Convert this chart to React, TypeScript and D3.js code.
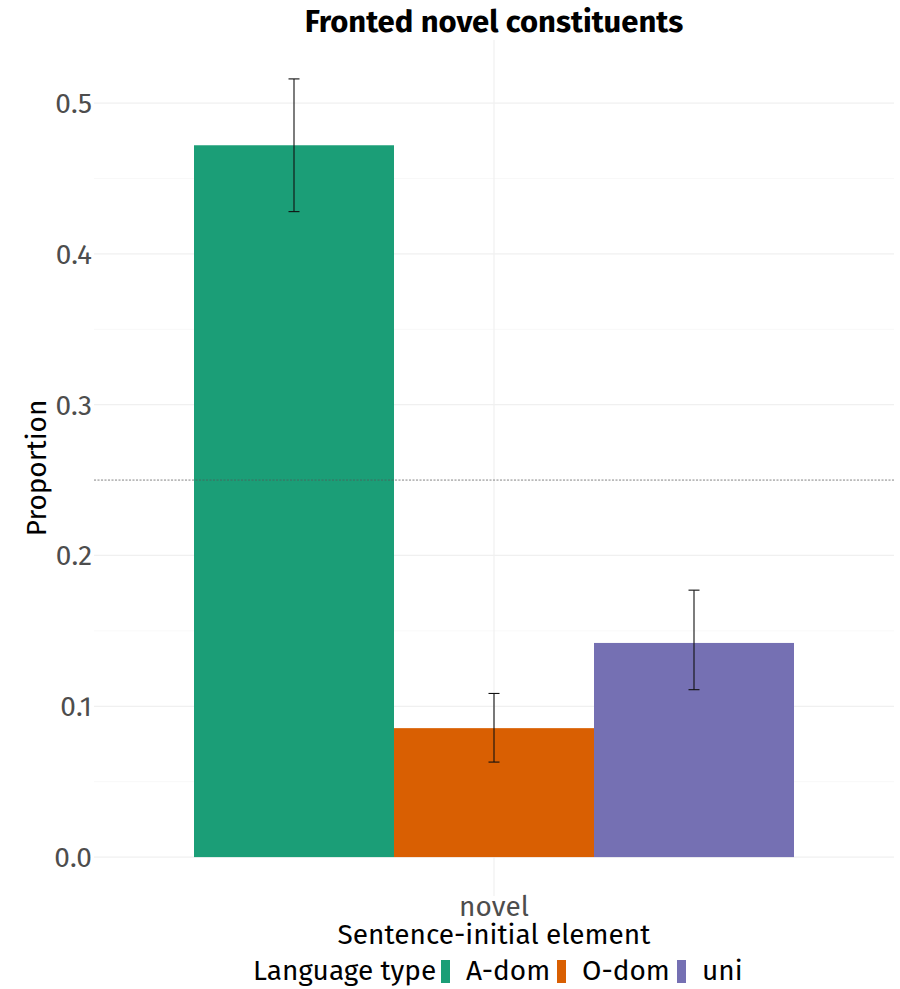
import React from "react";
import * as d3 from "d3";

const categories = ["novel"];
const groups = ["A-dom", "O-dom", "uni"];
const colors = ["#1B9E77", "#D95F02", "#7570B3"];
const proportions = [0.472, 0.0855, 0.142];
const lowerCI = [0.428, 0.063, 0.111];
const upperCI = [0.516, 0.1085, 0.177];
const yTicks = [0, 0.1, 0.2, 0.3, 0.4, 0.5];
const yMinorTicks = [0.05, 0.15, 0.25, 0.35, 0.45];
const chanceLevel = 0.25;

const W = 900;
const H = 989;
const FONT = "'Fira Sans', Lato, 'Open Sans', sans-serif";

export default function App() {
  const left = 94;
  const right = 894;
  const top = 40;
  const bottom = 896;

  const yMaxData = d3.max(upperCI) as number;
  const pad = yMaxData * 0.05;
  const y = d3.scaleLinear().domain([-pad, yMaxData + pad]).range([bottom, top]);

  const xCont = d3.scaleLinear().domain([1 - 0.6, categories.length + 0.6]).range([left, right]);
  const barTotal = 0.9;
  const dodge = d3
    .scaleBand()
    .domain(groups)
    .range([-barTotal / 2, barTotal / 2])
    .padding(0);

  const cx = xCont(1);

  return (
    <svg
      width={W}
      height={H}
      style={{ position: "absolute", left: 0, top: 0, background: "#fff" }}
      fontFamily={FONT}
    >
      <rect x={0} y={0} width={W} height={H} fill="#fff" />
      {yMinorTicks.map((t) => (
        <line key={"mn" + t} x1={left} x2={right} y1={y(t)} y2={y(t)} stroke="#f6f6f6" strokeWidth={0.8} />
      ))}
      {yTicks.map((t) => (
        <line key={"mj" + t} x1={left} x2={right} y1={y(t)} y2={y(t)} stroke="#f0f0f0" strokeWidth={1.2} />
      ))}
      {categories.map((c, i) => (
        <line key={"vx" + c} x1={xCont(i + 1)} x2={xCont(i + 1)} y1={top} y2={bottom} stroke="#f0f0f0" strokeWidth={1.2} />
      ))}
      {groups.map((g, i) => {
        const x0 = xCont(1 + (dodge(g) as number));
        const x1 = xCont(1 + (dodge(g) as number) + dodge.bandwidth());
        return (
          <rect
            key={"bar" + g}
            x={x0}
            y={y(proportions[i])}
            width={x1 - x0}
            height={y(0) - y(proportions[i])}
            fill={colors[i]}
          />
        );
      })}
      <line
        x1={left}
        x2={right}
        y1={y(chanceLevel)}
        y2={y(chanceLevel)}
        stroke="#555"
        strokeWidth={0.7}
        strokeDasharray="2,1.5"
      />
      {groups.map((g, i) => {
        const mid = xCont(1 + (dodge(g) as number) + dodge.bandwidth() / 2);
        const cap = 5.5;
        return (
          <g key={"eb" + g} stroke="#111" strokeWidth={1.1}>
            <line x1={mid} x2={mid} y1={y(lowerCI[i])} y2={y(upperCI[i])} />
            <line x1={mid - cap} x2={mid + cap} y1={y(lowerCI[i])} y2={y(lowerCI[i])} />
            <line x1={mid - cap} x2={mid + cap} y1={y(upperCI[i])} y2={y(upperCI[i])} />
          </g>
        );
      })}
      {yTicks.map((t) => (
        <text key={"yt" + t} x={left - 2} y={y(t) + 10} textAnchor="end" fontSize={28} fill="#4d4d4d">
          {d3.format(".1f")(t)}
        </text>
      ))}
      {categories.map((c, i) => (
        <text key={"xt" + c} x={xCont(i + 1)} y={916} textAnchor="middle" fontSize={28} fill="#4d4d4d">
          {c}
        </text>
      ))}
      <text x={cx} y={944} textAnchor="middle" fontSize={28} fill="#000">
        Sentence-initial element
      </text>
      <text
        transform={`translate(46, ${(top + bottom) / 2}) rotate(-90)`}
        textAnchor="middle"
        fontSize={28}
        fill="#000"
      >
        Proportion
      </text>
      <text x={cx} y={32} textAnchor="middle" fontSize={31} fontWeight="bold" fill="#000">
        Fronted novel constituents
      </text>
      <text x={253} y={980} fontSize={28} fill="#000">
        Language type
      </text>
      {groups.map((g, i) => {
        const keyX = [441, 557, 677][i];
        return (
          <g key={"lg" + g}>
            <rect x={keyX} y={960} width={9} height={23} fill={colors[i]} />
            <text x={keyX + 25} y={980} fontSize={28} fill="#000">
              {g}
            </text>
          </g>
        );
      })}
    </svg>
  );
}
